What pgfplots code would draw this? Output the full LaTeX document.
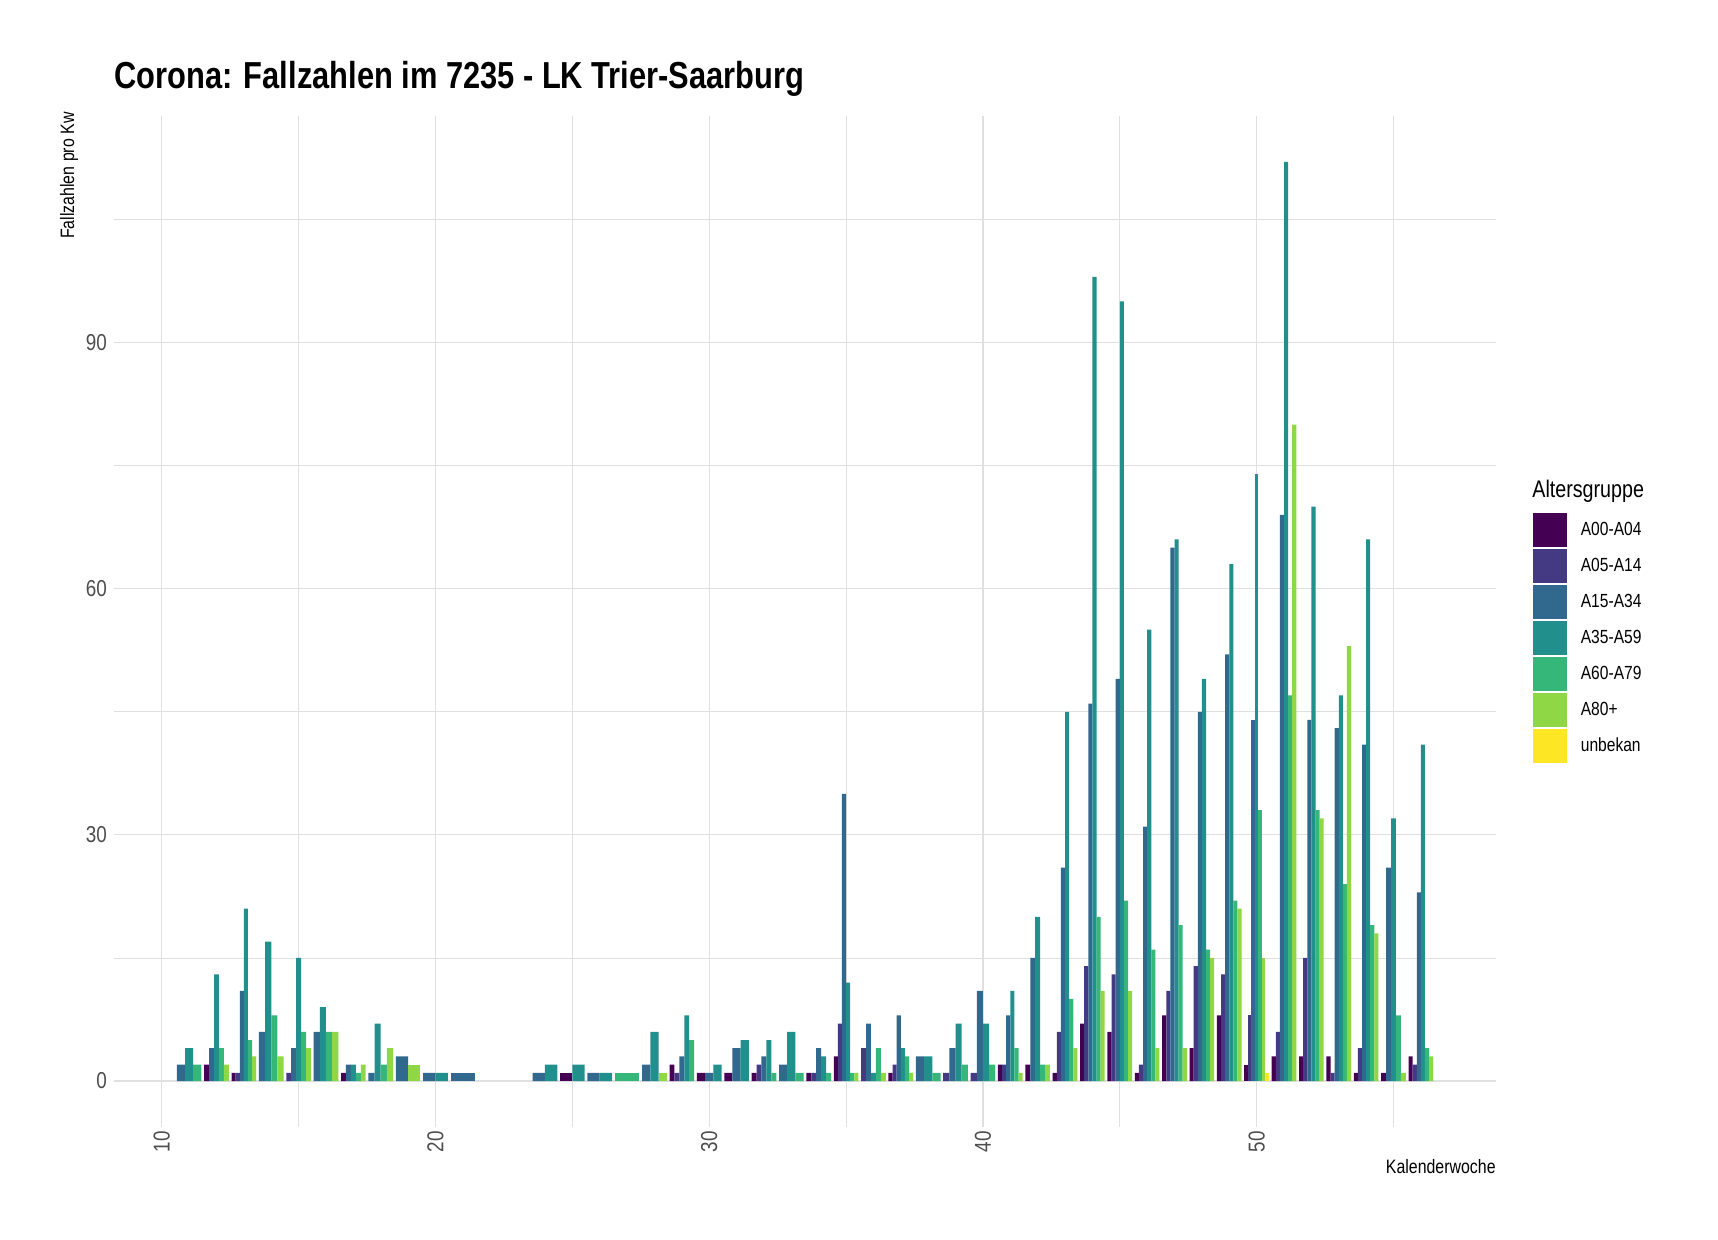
\documentclass[border=0pt]{standalone}
\usepackage{fontspec}
\setmainfont{Liberation Sans}[FakeStretch=0.82]
\usepackage{pgfplots}
\usepackage{pgfplotstable}
\pgfplotsset{compat=1.18}
\definecolor{c1}{HTML}{440154}
\definecolor{c2}{HTML}{443A83}
\definecolor{c3}{HTML}{31688E}
\definecolor{c4}{HTML}{21908C}
\definecolor{c5}{HTML}{35B779}
\definecolor{c6}{HTML}{8FD744}
\definecolor{c7}{HTML}{FDE725}
\definecolor{tickgray}{HTML}{4D4D4D}
\definecolor{gridc}{HTML}{E0E0E0}
\pgfplotsset{
  sq/.style={legend image code/.code={\fill[#1] (0pt,-8.25pt) rectangle (16.5pt,8.25pt);}},
}
% columns: week, position within the week's group, number of bars in the week, cases
\pgfplotstableread{
w k n y
12 0 5 2
13 0 6 1
17 0 5 1
25 0 2 1
29 0 5 2
30 0 3 1
31 0 3 1
32 0 5 1
34 0 5 1
35 0 6 3
37 0 6 1
41 0 6 2
42 0 5 2
43 0 6 1
44 0 6 7
45 0 6 6
46 0 6 1
47 0 6 8
48 0 6 4
49 0 6 8
50 0 7 2
51 0 6 3
52 0 6 3
53 0 6 3
54 0 6 1
55 0 5 1
56 0 6 3
}\tA
\pgfplotstableread{
w k n y
13 1 6 1
15 0 5 1
29 1 5 1
32 1 5 2
34 1 5 1
35 1 6 7
36 0 5 4
37 1 6 2
39 0 4 1
40 0 4 1
41 1 6 2
43 1 6 6
44 1 6 14
45 1 6 13
46 1 6 2
47 1 6 11
48 1 6 14
49 1 6 13
50 1 7 8
51 1 6 6
52 1 6 15
53 1 6 1
54 1 6 4
56 1 6 2
}\tB
\pgfplotstableread{
w k n y
11 0 3 2
12 1 5 4
13 2 6 11
14 0 4 6
15 1 5 4
16 0 4 6
17 1 5 2
18 0 4 1
19 0 2 3
20 0 2 1
21 0 1 1
24 0 2 1
26 0 2 1
28 0 3 2
29 2 5 3
30 1 3 1
31 1 3 4
32 2 5 3
33 0 3 2
34 2 5 4
35 2 6 35
36 1 5 7
37 2 6 8
38 0 3 3
39 1 4 4
40 1 4 11
41 2 6 8
42 1 5 15
43 2 6 26
44 2 6 46
45 2 6 49
46 2 6 31
47 2 6 65
48 2 6 45
49 2 6 52
50 2 7 44
51 2 6 69
52 2 6 44
53 2 6 43
54 2 6 41
55 1 5 26
56 2 6 23
}\tC
\pgfplotstableread{
w k n y
11 1 3 4
12 2 5 13
13 3 6 21
14 1 4 17
15 2 5 15
16 1 4 9
17 2 5 2
18 1 4 7
20 1 2 1
24 1 2 2
25 1 2 2
26 1 2 1
28 1 3 6
29 3 5 8
30 2 3 2
31 2 3 5
32 3 5 5
33 1 3 6
34 3 5 3
35 3 6 12
36 2 5 1
37 3 6 4
38 1 3 3
39 2 4 7
40 2 4 7
41 3 6 11
42 2 5 20
43 3 6 45
44 3 6 98
45 3 6 95
46 3 6 55
47 3 6 66
48 3 6 49
49 3 6 63
50 3 7 74
51 3 6 112
52 3 6 70
53 3 6 47
54 3 6 66
55 2 5 32
56 3 6 41
}\tD
\pgfplotstableread{
w k n y
11 2 3 2
12 3 5 4
13 4 6 5
14 2 4 8
15 3 5 6
16 2 4 6
17 3 5 1
18 2 4 2
27 0 1 1
29 4 5 5
32 4 5 1
33 2 3 1
34 4 5 1
35 4 6 1
36 3 5 4
37 4 6 3
38 2 3 1
39 3 4 2
40 3 4 2
41 4 6 4
42 3 5 2
43 4 6 10
44 4 6 20
45 4 6 22
46 4 6 16
47 4 6 19
48 4 6 16
49 4 6 22
50 4 7 33
51 4 6 47
52 4 6 33
53 4 6 24
54 4 6 19
55 3 5 8
56 4 6 4
}\tE
\pgfplotstableread{
w k n y
12 4 5 2
13 5 6 3
14 3 4 3
15 4 5 4
16 3 4 6
17 4 5 2
18 3 4 4
19 1 2 2
28 2 3 1
35 5 6 1
36 4 5 1
37 5 6 1
41 5 6 1
42 4 5 2
43 5 6 4
44 5 6 11
45 5 6 11
46 5 6 4
47 5 6 4
48 5 6 15
49 5 6 21
50 5 7 15
51 5 6 80
52 5 6 32
53 5 6 53
54 5 6 18
55 4 5 1
56 5 6 3
}\tF
\pgfplotstableread{
w k n y
50 6 7 1
}\tG
\newcommand{\series}[2]{%
  \pgfplotsinvokeforeach{1,...,7}{%
    \addplot[ybar, bar shift=0pt, bar width={0.9/##1}, fill=#2, draw=none, forget plot]
      table[x expr={\thisrow{w}-0.45+(\thisrow{k}+0.5)*0.9/\thisrow{n}}, y=y,
            restrict expr to domain={\thisrow{n}}{##1:##1}] {#1};
  }%
}
\begin{document}
\begin{tikzpicture}
\path[use as bounding box] (0pt,0pt) rectangle (859pt,620pt);
\begin{axis}[
  at={(57pt,56.5pt)}, anchor=south west,
  scale only axis, width=691pt, height=505.5pt,
  xmin=8.255, xmax=58.745, ymin=-5.6, ymax=117.6,
  xtick={10,20,30,40,50}, minor xtick={15,25,35,45,55},
  ytick={0,30,60,90}, minor ytick={15,45,75,105},
  grid=both,
  major grid style={line width=0.6pt, draw=gridc},
  minor grid style={line width=0.35pt, draw=gridc},
  axis line style={draw=none},
  major tick length=0pt, minor tick length=0pt,
  tick style={draw=none},
  /pgf/number format/assume math mode=true,
  tick label style={font=\fontsize{11.5}{13}\selectfont, text=tickgray},
  xticklabel style={rotate=90, anchor=east, inner sep=2pt},
  legend cell align=left,
  legend style={draw=none, fill=none, inner sep=0pt, outer sep=0pt, row sep=1.1pt,
    at={(axis description cs:1.0268,0.6073)}, anchor=north west,
    font=\fontsize{9.5}{11}\selectfont, nodes={inner sep=0pt},
    /tikz/every odd column/.append style={column sep=7pt}},
]
\series{\tA}{c1}
\series{\tB}{c2}
\series{\tC}{c3}
\series{\tD}{c4}
\series{\tE}{c5}
\series{\tF}{c6}
\series{\tG}{c7}
\addlegendimage{sq=c1}\addlegendentry{A00-A04}
\addlegendimage{sq=c2}\addlegendentry{A05-A14}
\addlegendimage{sq=c3}\addlegendentry{A15-A34}
\addlegendimage{sq=c4}\addlegendentry{A35-A59}
\addlegendimage{sq=c5}\addlegendentry{A60-A79}
\addlegendimage{sq=c6}\addlegendentry{A80+}
\addlegendimage{sq=c7}\addlegendentry{unbekan}
\end{axis}
\node[anchor=base west, inner sep=0pt, font=\bfseries\fontsize{18.8}{22}\selectfont] at (57pt,575.5pt) {Corona: Fallzahlen im 7235 - LK Trier-Saarburg};
\node[rotate=90, anchor=east, inner sep=0pt, font=\fontsize{9.7}{11}\selectfont] at (34.5pt,564pt) {Fallzahlen pro Kw};
\node[anchor=east, inner sep=0pt, font=\fontsize{9.7}{11}\selectfont] at (748pt,36.5pt) {Kalenderwoche};
\node[anchor=base west, inner sep=0pt, font=\fontsize{12}{14}\selectfont] at (766pt,371pt) {Altersgruppe};
\end{tikzpicture}
\end{document}
